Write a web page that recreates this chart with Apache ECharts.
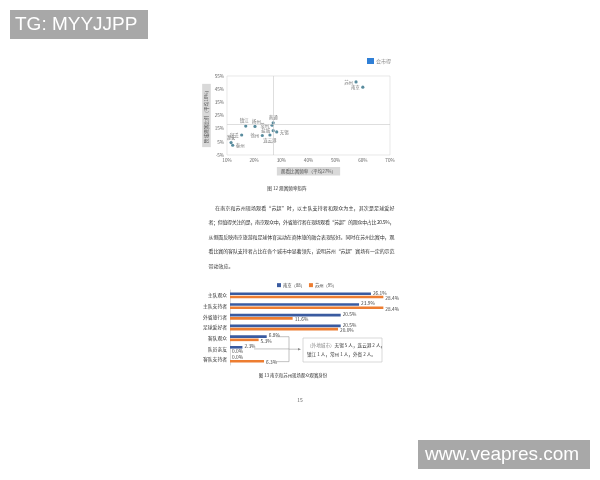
<!DOCTYPE html>
<html><head><meta charset="utf-8">
<script src="https://cdn.jsdelivr.net/npm/echarts@6/dist/echarts.min.js"></script>
<style>html,body{margin:0;padding:0;background:#fff}#c{width:600px;height:480px}</style>
</head><body><div id="c"></div>
<script>
// ---- scatter data (x: 观看比赛频率 %, y: 跨城观赛比例 %) ----
const cities = ['苏州','南京','南通','常州','镇江','扬州','盐城','无锡','宿迁','徐州','连云港','淮安','泰州'];
const freqX  = [57.5, 60.0, 27.0, 26.6, 16.9, 20.3, 27.0, 28.3, 15.4, 23.0, 25.8, 11.5, 12.1];
const crossY = [50.5, 46.5, 19.5, 17.6, 17.0, 16.7, 13.5, 12.5, 10.2,  9.8, 10.2,  4.4,  2.4];
const labelPos = ['left','left','top','left','top','top','left','right','left','left','bottom','top','right'];
const avgX = 27, avgY = 18;
const xTicks = [10,20,30,40,50,60,70];
const yTicks = [-5,5,15,25,35,45,55];

// ---- bar data ----
const roles = ['主队观众','主队支持者','外省旅行者','足球爱好者','客队观众','队员亲友','客队支持者'];
const nanjing = [26.1, 23.9, 20.5, 20.5, 6.8, 2.3, 0.0];
const suzhou  = [28.4, 28.4, 11.6, 20.0, 5.3, 0.0, 6.3];
const seriesNames = ['南京（88）','苏州（95）'];

const paragraph = [
  '在南京和苏州现场观看“苏超”时，以主队支持者和观众为主，其次是足球爱好',
  '者；但值得关注的是，南京观众中，外省旅行者在现场观看“苏超”的观众中占比 20.5%，',
  '从侧面反映南京旅游和足球体育运动在商体旅的融合表现较好。同时在苏州比赛中，观',
  '看比赛的客队支持者占比在各个城市中显著领先，说明苏州“苏超”赛场有一定的示范',
  '带动效应。'
];

const FONT = '"Noto Sans CJK SC", sans-serif';
const chart = echarts.init(document.getElementById('c'), null, {renderer:'canvas'});

const scatterData = cities.map((c,i)=>({name:c, value:[freqX[i], crossY[i]],
  label:{position:labelPos[i], offset: c==='镇江' ? [-1.5,0] : (c==='扬州' ? [1.5,0] : [0,0])}}));

const option = {
  backgroundColor:'#fff',
  animation:false,
  textStyle:{fontFamily:FONT},
  legend:{top:278, left:272, itemWidth:4, itemHeight:4, itemGap:4, icon:'rect',
    textStyle:{fontSize:4.3, color:'#444', padding:[0,0,0,-3]}, data:seriesNames},
  grid:[
    {left:227, width:163, top:76, height:79, show:true, borderColor:'#d9d9d9', borderWidth:0.6},
    {left:230, width:162, top:290, height:75}
  ],
  xAxis:[
    {gridIndex:0, type:'value', min:10, max:70, interval:10,
     axisLine:{show:false}, axisTick:{show:false}, splitLine:{show:false},
     axisLabel:{fontSize:4.6, color:'#666', margin:3, formatter:'{value}%'},
     name:'观看比赛频率（平均27%）', nameLocation:'middle', nameGap:12,
     nameTextStyle:{fontSize:4.6, color:'#555', backgroundColor:'#d9d9d9', padding:[2,4]}},
    {gridIndex:1, type:'value', min:0, max:30, show:false}
  ],
  yAxis:[
    {gridIndex:0, type:'value', min:-5, max:55, interval:10,
     axisLine:{show:false}, axisTick:{show:false}, splitLine:{show:false},
     axisLabel:{fontSize:4.6, color:'#666', margin:3, formatter:'{value}%'},
     name:'跨城观赛比例（平均18%）', nameLocation:'middle', nameRotate:90, nameGap:16,
     nameTextStyle:{fontSize:4.6, color:'#555', backgroundColor:'#d9d9d9', padding:[2,4]}},
    {gridIndex:1, type:'category', data:roles, inverse:true,
     axisLine:{show:true, lineStyle:{color:'#bfbfbf', width:0.6}}, axisTick:{show:false},
     axisLabel:{fontSize:4.8, color:'#333', margin:3}}
  ],
  series:[
    {type:'scatter', xAxisIndex:0, yAxisIndex:0, data:scatterData, symbolSize:3.2,
     itemStyle:{color:'#2f6f86'},
     label:{show:true, formatter:'{b}', fontSize:4.4, color:'#555', distance:1.5},
     markLine:{silent:true, symbol:'none', label:{show:false},
       lineStyle:{color:'#c8c8c8', width:0.6, type:'solid'},
       data:[{xAxis:avgX},{yAxis:avgY}]}},
    {type:'bar', name:seriesNames[0], xAxisIndex:1, yAxisIndex:1, data:nanjing,
     barWidth:2.6, barGap:'25%', itemStyle:{color:'#3a5ba0'},
     label:{show:true, position:'right', distance:2, fontSize:4.8, color:'#444', offset:[0,-1],
       formatter:p=>p.value.toFixed(1)+'%'}},
    {type:'bar', name:seriesNames[1], xAxisIndex:1, yAxisIndex:1, data:suzhou,
     barWidth:2.6, itemStyle:{color:'#ed7d31'},
     label:{show:true, position:'right', distance:2, fontSize:4.8, color:'#444', offset:[0,1],
       formatter:p=>p.value.toFixed(1)+'%'}}
  ]
};
chart.setOption(option);

// ---- annotations ----
const g = [];
// watermarks
g.push({type:'rect', shape:{x:10,y:10,width:138,height:29}, style:{fill:'#a8a8a8'}});
g.push({type:'text', x:15, y:24.5, style:{text:'TG: MYYJJPP', font:'19px "Liberation Sans", Arial, sans-serif', fill:'#fff', textVerticalAlign:'middle'}});
g.push({type:'rect', shape:{x:418,y:440,width:172,height:29}, style:{fill:'#a8a8a8'}});
g.push({type:'text', x:425, y:454.5, style:{text:'www.veapres.com', font:'19px "Liberation Sans", Arial, sans-serif', fill:'#fff', textVerticalAlign:'middle'}});
// logo
g.push({type:'rect', shape:{x:367,y:58,width:7,height:6}, style:{fill:'#2f7fd6'}});
g.push({type:'text', x:376, y:61, style:{text:'会市得', font:'5px '+FONT, fill:'#888', textVerticalAlign:'middle'}});
// caption 12
g.push({type:'text', x:287, y:188, style:{text:'图 12 观赛频率矩阵', font:'4.6px '+FONT, fill:'#333', textAlign:'center', textVerticalAlign:'middle'}});

// paragraph: one font size, full lines justified to the column width
const ctx = document.createElement('canvas').getContext('2d');
const lineY=[208,222.5,237,251.5,266];
const rightEdge = 394.5;
const x0s = paragraph.map((t,i)=> i===0 ? 215 : 208.5);
const fs = 5.0;
ctx.font = fs+'px "Noto Sans CJK SC"';
paragraph.forEach((t,i)=>{
  const chars = Array.from(t);
  const widths = chars.map(c=>ctx.measureText(c).width);
  const natural = widths.reduce((a,b)=>a+b,0);
  const extra = (i<paragraph.length-1 && chars.length>1) ? (rightEdge-x0s[i]-natural)/(chars.length-1) : 0;
  let x = x0s[i];
  chars.forEach((c,k)=>{
    g.push({type:'text', x:x, y:lineY[i], silent:true, style:{text:c, font:fs+'px '+FONT, fill:'#333', textVerticalAlign:'middle'}});
    x += widths[k] + extra;
  });
});
// caption 13 and page number
g.push({type:'text', x:293, y:375, style:{text:'图 13 南京和苏州现场观众观赛身份', font:'4.4px '+FONT, fill:'#333', textAlign:'center', textVerticalAlign:'middle'}});
g.push({type:'text', x:300, y:400, style:{text:'15', font:'5px '+FONT, fill:'#666', textAlign:'center', textVerticalAlign:'middle'}});

// bracket derived from the category positions
const yTop = chart.convertToPixel({yAxisIndex:1}, roles[4]) - 1.5;
const yMid = chart.convertToPixel({yAxisIndex:1}, roles[5]);
const yBot = chart.convertToPixel({yAxisIndex:1}, roles[6]) + 2;
const bx = 289;
const lc = {stroke:'#999', lineWidth:0.6};
g.push({type:'line', shape:{x1:276,y1:yTop,x2:bx,y2:yTop}, style:lc});
g.push({type:'line', shape:{x1:254,y1:yMid,x2:bx,y2:yMid}, style:lc});
g.push({type:'line', shape:{x1:276,y1:yBot,x2:bx,y2:yBot}, style:lc});
g.push({type:'line', shape:{x1:bx,y1:yTop,x2:bx,y2:yBot}, style:lc});
const ay = (yTop+yBot)/2;
g.push({type:'line', shape:{x1:bx,y1:ay,x2:299,y2:ay}, style:lc});
g.push({type:'polygon', shape:{points:[[301,ay],[298,ay-1.3],[298,ay+1.3]]}, style:{fill:'#888'}});
g.push({type:'rect', shape:{x:303,y:338,width:79,height:24}, style:{fill:'#fff', stroke:'#c8c8c8', lineWidth:0.7}});
g.push({type:'text', x:307, y:345.5, style:{rich:{g:{fill:'#888', font:'4.6px '+FONT}, k:{fill:'#333', font:'4.6px '+FONT}},
  text:'{g|（外地城市）}{k|无锡 5 人，连云港 2 人，}', textVerticalAlign:'middle'}});
g.push({type:'text', x:307, y:354.5, style:{text:'镇江 1 人，常州 1 人，外省 2 人。', font:'4.6px '+FONT, fill:'#333', textVerticalAlign:'middle'}});
chart.setOption({graphic:g});
</script></body></html>
